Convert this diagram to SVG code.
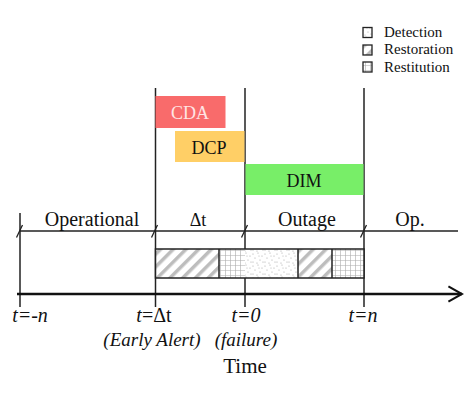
<svg xmlns="http://www.w3.org/2000/svg" width="474" height="394" viewBox="0 0 474 394" font-family="'Liberation Serif', 'Times New Roman', serif">
<defs>
<pattern id="hatch" width="9" height="9" patternUnits="userSpaceOnUse" patternTransform="rotate(45)">
<rect width="9" height="9" fill="#fff"/>
<rect x="0" y="0" width="3.5" height="9" fill="#bdbdbd"/>
</pattern>
<pattern id="grid" width="5" height="5" patternUnits="userSpaceOnUse" x="0" y="0">
<rect width="5" height="5" fill="#fff"/>
<path d="M0 0H5M0 0V5" stroke="#aaa" stroke-width="1.2" fill="none"/>
</pattern>
<pattern id="dots" width="12" height="12" patternUnits="userSpaceOnUse">
<rect width="12" height="12" fill="#fff"/>
<g fill="#a8a8a8">
<circle cx="1" cy="2" r="0.6"/><circle cx="6" cy="1" r="0.6"/><circle cx="10" cy="4" r="0.6"/>
<circle cx="3" cy="6" r="0.6"/><circle cx="8" cy="8" r="0.6"/><circle cx="1" cy="10" r="0.6"/>
<circle cx="5" cy="11" r="0.6"/><circle cx="11" cy="10" r="0.6"/><circle cx="7" cy="4" r="0.5"/>
</g>
</pattern>
<marker id="arrow" viewBox="0 0 20 20" refX="18" refY="10" markerWidth="17" markerHeight="21" markerUnits="userSpaceOnUse" orient="auto">
<path d="M2 1L18 10L2 19" fill="none" stroke="#111" stroke-width="2.5"/>
</marker>
</defs>
<style>
.ln{stroke:#222;stroke-width:1.5;fill:none}
.tk{stroke:#222;stroke-width:1.3;fill:none}
text{font-family:"Liberation Serif","Times New Roman",serif;fill:#111}
.it{font-style:italic}
.seg{stroke:#222;stroke-width:1.5}
</style>
<rect width="474" height="394" fill="#fff"/>

<g id="connectors">
<line class="ln" x1="20" y1="213" x2="20" y2="307"/>
<line class="ln" x1="155.5" y1="88" x2="155.5" y2="307"/>
<line class="ln" x1="245" y1="88" x2="245" y2="307"/>
<line class="ln" x1="364" y1="88" x2="364" y2="307"/>
<line class="ln" x1="20" y1="231" x2="458" y2="231"/>
<path class="tk" d="M16.5 237.5L22.5 225M151.5 237.5L157.5 225M241.5 237.5L247.5 225M360.5 237.5L366.5 225"/>
<line x1="17" y1="294" x2="462" y2="294" stroke="#111" stroke-width="2.5" marker-end="url(#arrow)"/>
</g>

<g id="cda">
<rect x="155.5" y="96" width="70" height="32" fill="#f96b6b"/>
<text x="190" y="119" font-size="18" text-anchor="middle" style="fill:#ffe4e4">CDA</text>
</g>
<g id="dcp">
<rect x="175" y="131" width="69.5" height="31" fill="#ffcf66"/>
<text x="209" y="154" font-size="18" text-anchor="middle">DCP</text>
</g>
<g id="dim">
<rect x="245.5" y="164" width="118" height="31" fill="#78ee68"/>
<text x="304" y="187" font-size="18" text-anchor="middle">DIM</text>
</g>

<g id="bar">
<rect x="155.5" y="249" width="63.5" height="29" fill="url(#hatch)"/>
<rect x="219" y="249" width="26" height="29" fill="url(#grid)"/>
<rect x="245" y="249" width="53" height="29" fill="url(#dots)"/>
<rect x="298" y="249" width="34" height="29" fill="url(#hatch)"/>
<rect x="332" y="249" width="32" height="29" fill="url(#grid)"/>
<rect x="155.5" y="249" width="208.5" height="29" fill="none" class="seg"/>
<path class="seg" d="M219 249V278M298 249V278M332 249V278"/>
</g>

<g id="phase-labels">
<text x="92" y="226" font-size="20" text-anchor="middle">Operational</text>
<text x="198" y="226" font-size="18" text-anchor="middle">Δt</text>
<text x="307" y="226" font-size="20" text-anchor="middle">Outage</text>
<text x="410" y="226" font-size="20" text-anchor="middle">Op.</text>
</g>

<g id="axis-labels">
<text class="it" x="30" y="322" font-size="20" text-anchor="middle">t=-n</text>
<text x="154" y="322" font-size="20" text-anchor="middle"><tspan font-style="italic">t</tspan>=Δt</text>
<text class="it" x="246" y="322" font-size="20" text-anchor="middle">t=0</text>
<text class="it" x="363" y="322" font-size="20" text-anchor="middle">t=n</text>
<text class="it" x="152" y="346" font-size="19" text-anchor="middle">(Early Alert)</text>
<text class="it" x="246" y="346" font-size="19" text-anchor="middle">(failure)</text>
<text x="245" y="373" font-size="21" text-anchor="middle">Time</text>
</g>

<g id="legend">
<rect x="363" y="27.5" width="9" height="10" fill="url(#dots)" stroke="#222" stroke-width="1.3"/>
<rect x="363" y="45" width="9" height="10" fill="url(#hatch)" stroke="#222" stroke-width="1.3"/>
<rect x="363" y="62" width="9" height="10" fill="url(#grid)" stroke="#222" stroke-width="1.3"/>
<text x="384" y="37" font-size="15">Detection</text>
<text x="384" y="54" font-size="15">Restoration</text>
<text x="384" y="71.5" font-size="15">Restitution</text>
</g>
</svg>
